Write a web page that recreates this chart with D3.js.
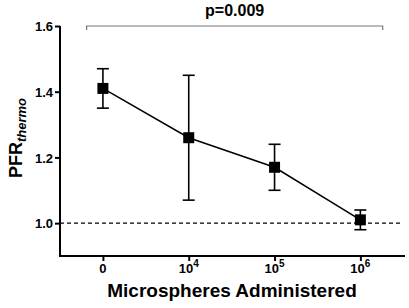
<!DOCTYPE html>
<html><head><meta charset="utf-8">
<script src="https://cdn.jsdelivr.net/npm/d3@7"></script>
<style>body{margin:0;background:#fff}svg{display:block}text{font-family:"Liberation Sans",Arial,sans-serif}</style>
</head><body>
<script>
const categories = ["0","10^4","10^5","10^6"];
const means = [1.41, 1.26, 1.17, 1.01];
const lower = [1.35, 1.07, 1.10, 0.98];
const upper = [1.47, 1.45, 1.24, 1.04];
const yTicks = [1.0, 1.2, 1.4, 1.6];
const refLine = 1.0;
const pLabel = "p=0.009";
const bracketRange = [-0.19, 3.26];

const W = 409, H = 308;
const svg = d3.select("body").append("svg").attr("width", W).attr("height", H);
const x = d3.scaleLinear().domain([-0.5, 3.52]).range([60, 405]);
const y = d3.scaleLinear().domain([0.9, 1.6]).range([256, 26]);

// reference dashed line
svg.append("line").attr("x1", x(-0.5)).attr("x2", x(3.47)).attr("y1", y(refLine)).attr("y2", y(refLine))
  .attr("stroke", "#000").attr("stroke-width", 1.3).attr("stroke-dasharray", "4,3");

// y axis
const yAxis = svg.append("g").attr("transform", "translate(60,0)")
  .call(d3.axisLeft(y).tickValues(yTicks).tickFormat(d3.format(".1f")).tickSize(5).tickSizeOuter(0));
yAxis.select(".domain").attr("stroke-width", 2).attr("d", `M0,${y(1.6)}V${y(0.9)}`);
yAxis.selectAll(".tick line").attr("stroke-width", 2);
yAxis.selectAll(".tick text").attr("font-size", 13).attr("font-weight", "bold").attr("x", -7).attr("dy", "0.36em");

// x axis
const xAxis = svg.append("g").attr("transform", "translate(0,256)")
  .call(d3.axisBottom(x).tickValues([0,1,2,3]).tickFormat("").tickSize(5).tickSizeOuter(0));
xAxis.select(".domain").attr("stroke-width", 2).attr("d", `M${x(-0.5)-1},0H${x(3.52)}`);
xAxis.selectAll(".tick line").attr("stroke-width", 2);
categories.forEach((c, i) => {
  const parts = c.split("^");
  const t = svg.append("text").attr("x", x(i)).attr("y", 273).attr("text-anchor", "middle")
    .attr("font-size", 13).attr("font-weight", "bold");
  t.append("tspan").text(parts[0]);
  if (parts[1]) t.append("tspan").attr("dy", -6).attr("font-size", 10).text(parts[1]);
});

// line
svg.append("path").datum(means)
  .attr("d", d3.line().x((d, i) => x(i)).y(d => y(d)))
  .attr("fill", "none").attr("stroke", "#000").attr("stroke-width", 1.5);

// error bars
const eb = svg.append("g").attr("stroke", "#000").attr("stroke-width", 1.6);
means.forEach((m, i) => {
  eb.append("line").attr("x1", x(i)).attr("x2", x(i)).attr("y1", y(lower[i])).attr("y2", y(upper[i]));
  [lower[i], upper[i]].forEach(v => eb.append("line").attr("x1", x(i) - 6).attr("x2", x(i) + 6).attr("y1", y(v)).attr("y2", y(v)));
});
// markers
svg.selectAll("rect.m").data(means).join("rect").attr("class", "m")
  .attr("x", (d, i) => x(i) - 5.5).attr("y", d => y(d) - 5.5).attr("width", 11).attr("height", 11).attr("fill", "#000");

// bracket
const by = y(1.6);
svg.append("path")
  .attr("d", `M${x(bracketRange[0])},${by + 4}V${by}H${x(bracketRange[1])}V${by + 4}`)
  .attr("fill", "none").attr("stroke", "#777").attr("stroke-width", 1.2);
svg.append("text").attr("x", (x(bracketRange[0]) + x(bracketRange[1])) / 2).attr("y", 16)
  .attr("text-anchor", "middle").attr("font-size", 16).attr("font-weight", "bold").text(pLabel);

// axis titles
svg.append("text").attr("x", 232).attr("y", 297).attr("text-anchor", "middle")
  .attr("font-size", 19).attr("font-weight", "bold").text("Microspheres Administered");
const yl = svg.append("text").attr("transform", "translate(22,138) rotate(-90)").attr("text-anchor", "middle")
  .attr("font-size", 18).attr("font-weight", "bold");
yl.append("tspan").text("PFR");
yl.append("tspan").attr("dy", 4).attr("font-size", 13).attr("font-style", "italic").text("thermo");
</script>
</body></html>
